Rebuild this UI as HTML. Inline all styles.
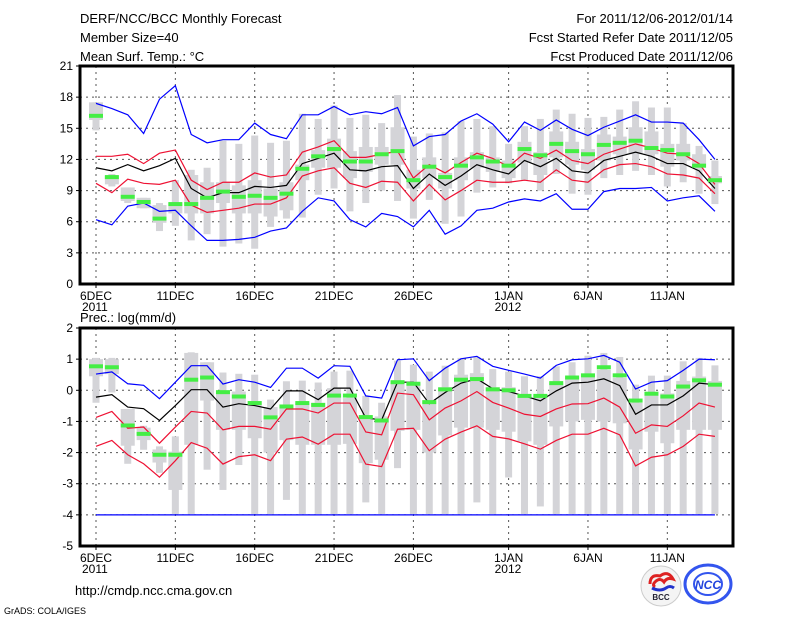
<!DOCTYPE html>
<html><head><meta charset="utf-8"><style>
html,body{margin:0;padding:0;background:#fff;}
svg{display:block;font-family:"Liberation Sans",sans-serif;}
</style></head><body>
<svg id="chart" width="800" height="618" viewBox="0 0 800 618" xmlns="http://www.w3.org/2000/svg">
<rect width="800" height="618" fill="#fff"/>
<g font-size="13" fill="#000">
<text x="80" y="23">DERF/NCC/BCC Monthly Forecast</text>
<text x="80" y="42">Member Size=40</text>
<text x="80" y="61">Mean Surf. Temp.: °C</text>
<text x="733" y="23" text-anchor="end">For 2011/12/06-2012/01/14</text>
<text x="733" y="42" text-anchor="end">Fcst Started Refer Date 2011/12/05</text>
<text x="733" y="61" text-anchor="end">Fcst Produced Date 2011/12/06</text>
<text x="80" y="322">Prec.: log(mm/d)</text>
<text x="75" y="595">http://cmdp.ncc.cma.gov.cn</text>
<text x="4" y="614" font-size="9">GrADS: COLA/IGES</text>
</g>
<g id="top"></g>
<g id="bot"></g>
<g>
<circle cx="661" cy="586" r="20" fill="#f4f4f4" stroke="#ccc"/>
<path d="M650 584 q0 -10 10 -8 q8 -6 13 3 q-6 -2 -9 3 q-4 -5 -9 0 q-3 3 0 5" fill="none" stroke="#d22" stroke-width="3"/>
<path d="M652 588 q8 4 14 0 q4 -3 8 0" fill="none" stroke="#23c" stroke-width="3"/>
<text x="661" y="600" font-size="8" font-weight="bold" text-anchor="middle" fill="#223">BCC</text>
</g>
<g>
<ellipse cx="708" cy="584" rx="23" ry="19" fill="#fff" stroke="#3355ee" stroke-width="3"/>
<ellipse cx="708" cy="584" rx="14" ry="11" fill="none" stroke="#3355ee" stroke-width="2"/>
<text x="708" y="589" font-size="12" font-weight="bold" font-style="italic" text-anchor="middle" fill="#2244dd">NCC</text>
</g>
</svg>
<script>
// ---- data (index 0 = 6 Dec 2011 ... 39 = 14 Jan 2012) ----
const dayLabels = ["6DEC","11DEC","16DEC","21DEC","26DEC","1JAN","6JAN","11JAN"];
const dayLabelIdx = [0,5,10,15,20,26,31,36];
const tTicks = [0,3,6,9,12,15,18,21];
const pTicks = [-5,-4,-3,-2,-1,0,1,2];

const tBlueHi = [17.4,16.9,16.3,14.5,17.8,19.1,14.4,13.6,13.9,13.9,15.5,14.4,14.0,16.3,16.3,17.1,16.3,16.6,16.4,17.0,13.3,14.2,14.4,15.7,16.4,15.4,13.7,15.6,14.8,15.8,14.9,14.3,15.1,15.7,16.3,15.6,15.6,15.5,13.9,12.0];
const tRedHi = [12.3,12.3,12.5,11.6,12.6,12.9,10.0,9.1,9.8,9.8,10.7,10.3,10.5,12.7,13.2,13.8,12.2,12.2,12.5,12.8,10.2,11.5,10.7,11.7,12.6,12.1,11.3,12.6,12.1,12.9,11.9,11.6,12.5,13.0,13.5,13.1,12.6,12.5,11.6,9.6];
const tMean = [11.2,10.9,11.5,10.9,11.4,12.1,9.2,8.3,8.8,8.8,9.4,9.3,9.5,11.6,12.1,12.6,11.0,10.9,11.3,11.4,9.2,10.6,9.5,10.4,11.5,11.0,10.6,11.9,11.3,12.1,10.9,10.7,11.9,12.3,12.7,12.3,11.6,11.6,10.9,9.2];
const tRedLo = [9.7,8.8,10.1,9.7,9.6,10.0,7.6,6.9,7.1,7.3,7.7,7.7,8.3,10.4,10.9,11.2,9.7,9.3,9.9,9.8,8.0,9.6,8.1,9.0,10.0,9.8,9.8,10.0,9.8,11.0,10.0,9.8,11.0,11.5,11.6,11.3,10.6,10.5,10.2,8.7];
const tBlueLo = [6.2,5.7,7.5,7.8,7.0,7.1,5.6,4.2,4.2,4.3,4.5,5.1,5.4,7.0,8.3,8.0,6.2,5.5,6.8,6.5,5.5,7.1,4.8,5.6,7.1,7.3,7.9,8.2,8.0,8.7,7.2,7.2,8.9,9.2,9.2,9.3,8.0,8.3,8.5,7.0];
const tMed = [16.2,10.3,8.4,7.9,6.3,7.7,7.7,8.3,8.9,8.4,8.5,8.3,8.7,11.1,12.3,13.0,11.8,11.8,12.5,12.8,10.0,11.3,10.3,11.4,12.2,11.8,11.4,13.0,12.4,13.5,12.8,12.5,13.4,13.6,13.8,13.1,12.9,12.5,11.4,10.0];
const tMax = [17.5,10.6,9.3,8.3,7.8,10.0,11.0,11.2,13.8,13.5,14.3,13.6,13.8,16.4,15.9,17.2,16.0,16.3,15.5,18.2,14.2,14.5,14.6,15.7,15.9,15.2,13.5,15.2,15.9,16.8,16.4,16.0,16.1,16.8,17.6,17.0,17.0,15.5,13.3,11.9];
const tQ3 = [17.5,10.4,9.3,8.3,7.6,7.8,10.5,9.8,9.8,9.5,10.0,9.2,9.8,11.5,12.9,14.0,12.8,13.2,13.2,15.1,11.0,12.2,10.7,12.2,12.7,12.2,11.9,13.7,12.7,14.7,13.7,13.0,14.4,14.2,15.1,14.7,13.5,13.5,12.5,10.4];
const tQ1 = [15.8,9.6,8.0,7.3,5.9,6.8,6.8,6.8,7.8,6.8,6.8,6.5,7.1,10.0,11.2,11.2,10.2,10.8,11.5,11.5,9.2,10.2,9.2,10.0,11.2,10.8,10.2,11.7,10.5,12.2,11.5,11.0,11.9,12.5,12.5,12.5,11.3,11.9,11.2,9.7];
const tMin = [14.8,9.4,7.8,7.3,5.1,5.6,4.2,4.8,3.6,3.9,3.4,5.5,6.3,6.4,8.6,9.2,7.0,7.8,9.0,8.0,6.3,8.1,5.8,6.5,8.8,9.3,9.7,10.0,9.0,10.6,8.7,8.6,10.2,10.5,10.9,10.5,9.4,9.8,8.7,7.7];

const pBlueHi = [0.52,0.59,0.21,0.16,-0.27,0.26,0.79,0.79,0.2,0.34,0.26,0.09,0.71,0.71,0.39,0.79,0.77,-0.18,-0.25,0.98,1.01,0.31,0.71,1.01,1.09,0.77,0.64,0.52,0.39,0.8,0.98,1.01,1.12,0.9,0.04,0.26,0.31,0.64,1.0,0.98];
const pRedHi = [-0.87,-0.68,-1.22,-1.18,-1.7,-1.18,-0.68,-0.73,-1.27,-1.16,-1.16,-1.25,-0.6,-0.6,-0.73,-0.41,-0.41,-1.34,-1.43,-0.09,-0.14,-0.95,-0.57,-0.34,-0.04,-0.39,-0.57,-0.77,-0.84,-0.6,-0.44,-0.43,-0.25,-0.54,-1.38,-1.11,-1.16,-0.82,-0.41,-0.54];
const pMean = [-0.22,-0.14,-0.54,-0.59,-0.97,-0.49,0.02,0.02,-0.54,-0.43,-0.49,-0.6,-0.02,-0.02,-0.3,0.07,0.07,-0.89,-0.95,0.26,0.26,-0.43,-0.07,0.23,0.37,0.05,-0.04,-0.18,-0.34,-0.02,0.23,0.26,0.37,0.15,-0.77,-0.47,-0.47,-0.18,0.23,0.18];
const pRedLo = [-1.8,-1.61,-2.07,-2.36,-2.79,-2.26,-1.68,-1.86,-2.37,-2.13,-2.07,-2.26,-1.57,-1.5,-1.73,-1.41,-1.41,-2.37,-2.45,-1.25,-1.22,-1.94,-1.57,-1.34,-1.14,-1.48,-1.56,-1.72,-1.89,-1.61,-1.41,-1.41,-1.22,-1.43,-2.43,-2.15,-2.07,-1.8,-1.41,-1.48];
const pBlueLo = [-4,-4,-4,-4,-4,-4,-4,-4,-4,-4,-4,-4,-4,-4,-4,-4,-4,-4,-4,-4,-4,-4,-4,-4,-4,-4,-4,-4,-4,-4,-4,-4,-4,-4,-4,-4,-4,-4,-4,-4];
const pMed = [0.77,0.74,-1.13,-1.4,-2.07,-2.07,0.34,0.41,-0.06,-0.2,-0.41,-0.87,-0.52,-0.41,-0.47,-0.17,-0.17,-0.86,-0.97,0.26,0.21,-0.38,0.03,0.34,0.36,0.03,0.0,-0.18,-0.18,0.23,0.41,0.48,0.74,0.48,-0.33,-0.11,-0.2,0.12,0.32,0.18];
const pMax = [1.04,1.04,-0.6,-1.14,-1.8,-1.48,1.22,0.9,0.57,0.53,0.5,-0.3,0.29,0.31,0.25,0.6,0.63,-0.18,-0.4,0.95,0.82,0.6,0.79,1.04,1.07,0.68,0.6,0.45,0.45,0.77,0.9,1.11,1.2,1.07,0.18,0.47,0.47,0.93,1.04,0.8];
const pQ3 = [1.0,1.0,-0.6,-1.2,-1.9,-1.97,1.2,0.9,-0.04,-0.04,-0.36,-0.54,-0.57,-0.4,-0.4,0.07,-0.25,-0.84,-0.84,0.3,0.24,-0.36,0.1,0.5,0.55,0.1,0.1,-0.2,-0.15,0.23,0.44,0.5,0.66,0.4,-0.4,-0.15,-0.1,0.3,0.44,0.3];
const pQ1 = [0.45,0.52,-1.78,-1.6,-2.32,-3.2,-1.75,-0.33,-1.27,-1.27,-1.54,-2.0,-1.6,-1.75,-1.75,-1.75,-1.72,-2.34,-2.23,-1.3,-1.27,-2.0,-1.45,-1.2,-1.2,-1.27,-1.33,-1.64,-1.75,-1.16,-1.0,-0.95,-1.0,-1.06,-1.9,-1.33,-1.7,-1.27,-1.27,-1.27];
const pMin = [-0.4,-0.07,-2.36,-1.91,-2.65,-3.97,-3.97,-2.55,-3.2,-2.4,-3.97,-3.97,-3.52,-3.97,-3.97,-3.97,-3.97,-3.6,-3.97,-2.5,-3.97,-3.97,-3.97,-3.97,-3.6,-3.97,-2.8,-3.97,-3.73,-3.97,-3.97,-3.97,-3.97,-3.97,-3.97,-3.97,-3.97,-3.97,-3.97,-3.97];

const NS = "http://www.w3.org/2000/svg";
function mk(parent, tag, attrs){ const e=document.createElementNS(NS,tag); for(const k in attrs) e.setAttribute(k,attrs[k]); parent.appendChild(e); return e; }
const xL=80, xR=733;
function xOf(i){ return 96 + i*15.87; }

function panel(g, y0, y1, vmin, vmax, ticks, series, stats, med, yearLabel){
  const yOf = v => y1 - (v - vmin)/(vmax - vmin)*(y1 - y0);
  // grid
  ticks.forEach(t=>{ if(t===vmin) return;
    const l=mk(g,'line',{x1:xL,x2:xR,y1:yOf(t),y2:yOf(t),stroke:'#555','stroke-width':1,'stroke-dasharray':'2,4'});
    
    
    const tk=mk(g,'line',{x1:xL-4,x2:xL,y1:yOf(t),y2:yOf(t),stroke:'#000'});
    
    
    const tx=mk(g,'text',{x:xL-7,y:yOf(t)+4,'text-anchor':'end','font-size':12});
    tx.textContent=t;
    
    
  });
  { const tx=mk(g,'text',{x:xL-7,y:yOf(vmin)+4,'text-anchor':'end','font-size':12}); tx.textContent=vmin;
    
     }
  dayLabelIdx.forEach((di,k)=>{
    const x=xOf(di);
    const l=mk(g,'line',{x1:x,x2:x,y1:y0,y2:y1,stroke:'#555','stroke-width':1,'stroke-dasharray':'2,4'});
    
    
    const tk=mk(g,'line',{x1:x,x2:x,y1:y1,y2:y1+4,stroke:'#000'});
    
    
    const tx=mk(g,'text',{x:x,y:y1+16,'text-anchor':'middle','font-size':12});
    tx.textContent=dayLabels[k];
    
    
  });
  const ya=mk(g,'text',{x:xOf(0)-14,y:y1+27,'font-size':12}); ya.textContent='2011';
  
  
  const yb=mk(g,'text',{x:xOf(26)-14,y:y1+27,'font-size':12}); yb.textContent='2012';
  
  
  // boxes
  const [mx,q3,q1,mn]=stats;
  for(let i=0;i<mx.length;i++){
    const x=xOf(i);
    const w=mk(g,'rect',{x:x-3.5,y:yOf(mx[i]),width:7,height:yOf(mn[i])-yOf(mx[i]),fill:'#d4d4d8'});
    
    
    const b=mk(g,'rect',{x:x-7,y:yOf(q3[i]),width:14,height:yOf(q1[i])-yOf(q3[i]),fill:'#d4d4d8'});
    
    
  }
  series.forEach(([arr,col,name])=>{
    const p=mk(g,'polyline',{points:arr.map((v,i)=>xOf(i)+','+yOf(v)).join(' '),fill:'none',stroke:col,'stroke-width':1.2});
    
    
  });
  for(let i=0;i<med.length;i++){
    const r=mk(g,'rect',{x:xOf(i)-7,y:yOf(med[i])-2,width:14,height:4,fill:'#44ee44'});
    
    
  }
  const f=mk(g,'rect',{x:xL,y:y0,width:xR-xL,height:y1-y0,fill:'none',stroke:'#000','stroke-width':3});
  
  
}
panel(document.getElementById('top'),66,284,0,21,tTicks,
  [[tBlueHi,'#0000ff','upper-blue-line'],[tRedHi,'#ee1133','upper-red-line'],[tMean,'#000','ensemble-mean-line'],[tRedLo,'#ee1133','lower-red-line'],[tBlueLo,'#0000ff','lower-blue-line']],
  [tMax,tQ3,tQ1,tMin],tMed);
panel(document.getElementById('bot'),328,546,-5,2,pTicks,
  [[pBlueHi,'#0000ff','upper-blue-line'],[pRedHi,'#ee1133','upper-red-line'],[pMean,'#000','ensemble-mean-line'],[pRedLo,'#ee1133','lower-red-line'],[pBlueLo,'#0000ff','lower-blue-line']],
  [pMax,pQ3,pQ1,pMin],pMed);
</script>
</body></html>
